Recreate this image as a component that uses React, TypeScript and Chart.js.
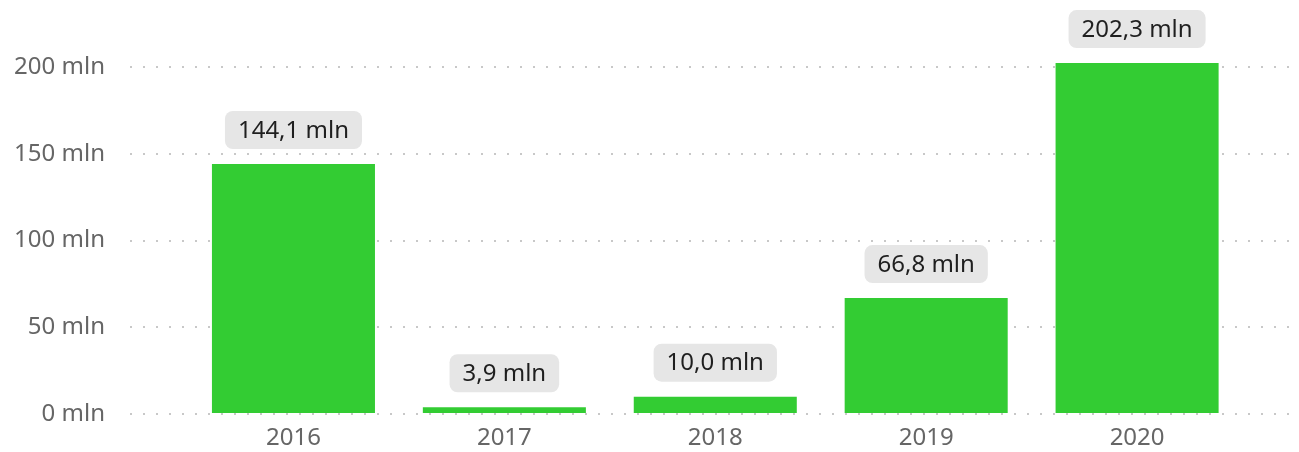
import React, { useEffect, useRef } from "react";
import { Chart, registerables } from "chart.js";

Chart.register(...registerables);

const categories = ["2016", "2017", "2018", "2019", "2020"];
const values = [144.1, 3.9, 10.0, 66.8, 202.3];
const yTicks = [0, 50, 100, 150, 200];

const FONT = "'Segoe UI', 'Noto Sans', sans-serif";

const fmt = (v: number) => v.toFixed(1).replace(".", ",") + " mln";

const labelPlugin = {
  id: "boxLabels",
  afterDatasetsDraw(chart: any) {
    const ctx = chart.ctx;
    const meta = chart.getDatasetMeta(0);
    ctx.save();
    ctx.font = `24px ${FONT}`;
    ctx.textAlign = "center";
    ctx.textBaseline = "middle";
    meta.data.forEach((bar: any, i: number) => {
      const text = fmt(values[i]);
      const tw = ctx.measureText(text).width;
      const w = tw + 26;
      const h = 38;
      const x = bar.x - w / 2;
      const y = bar.y - 15 - h;
      ctx.fillStyle = "#E6E6E6";
      ctx.beginPath();
      ctx.roundRect(x, y, w, h, 8);
      ctx.fill();
      ctx.fillStyle = "#1F1F1F";
      ctx.fillText(text, bar.x, y + h / 2 + 1);
    });
    ctx.restore();
  },
};

export default function App() {
  const ref = useRef<HTMLCanvasElement>(null);
  useEffect(() => {
    if (!ref.current) return;
    const chart = new Chart(ref.current, {
      type: "bar",
      data: {
        datasets: [
          {
            data: values.map((v, i) => ({ x: i, y: v })),
            backgroundColor: "#33CC33",
            borderWidth: 0,
            categoryPercentage: 1,
            barPercentage: 0.773,
          },
        ],
      },
      options: {
        animation: false,
        responsive: true,
        maintainAspectRatio: false,
        layout: { padding: { top: 15, right: 9, bottom: 0, left: 0 } },
        plugins: { legend: { display: false }, tooltip: { enabled: false } },
        scales: {
          x: {
            type: "linear",
            offset: false,
            min: -0.775,
            max: 4.725,
            afterBuildTicks: (scale: any) => {
              scale.ticks = categories.map((_, i) => ({ value: i }));
            },
            afterFit: (scale: any) => {
              scale.height = 38;
              scale.paddingLeft = 0;
              scale.paddingRight = 0;
            },
            grid: { display: false, drawTicks: false },
            border: { display: false },
            ticks: {
              autoSkip: false,
              maxRotation: 0,
              padding: 10,
              color: "#666666",
              font: { family: FONT, size: 24 },
              callback: (v: any) => categories[v] ?? "",
            },
          },
          y: {
            min: 0,
            max: 230,
            afterBuildTicks: (scale: any) => {
              scale.ticks = yTicks.map((v) => ({ value: v }));
            },
            afterFit: (scale: any) => {
              scale.width = 130;
              scale.paddingTop = 0;
              scale.paddingBottom = 0;
            },
            grid: {
              color: "#C8C8C8",
              lineWidth: 2,
              drawTicks: false,
            },
            border: { display: false, dash: [2, 11] },
            ticks: {
              padding: 25,
              color: "#666666",
              font: { family: FONT, size: 24 },
              callback: (v: any) => `${v} mln`,
            },
          },
        },
      },
      plugins: [labelPlugin],
    } as any);
    return () => chart.destroy();
  }, []);
  return (
    <div style={{ position: "absolute", left: 0, top: 0, width: 1299, height: 452 }}>
      <canvas ref={ref} />
    </div>
  );
}
